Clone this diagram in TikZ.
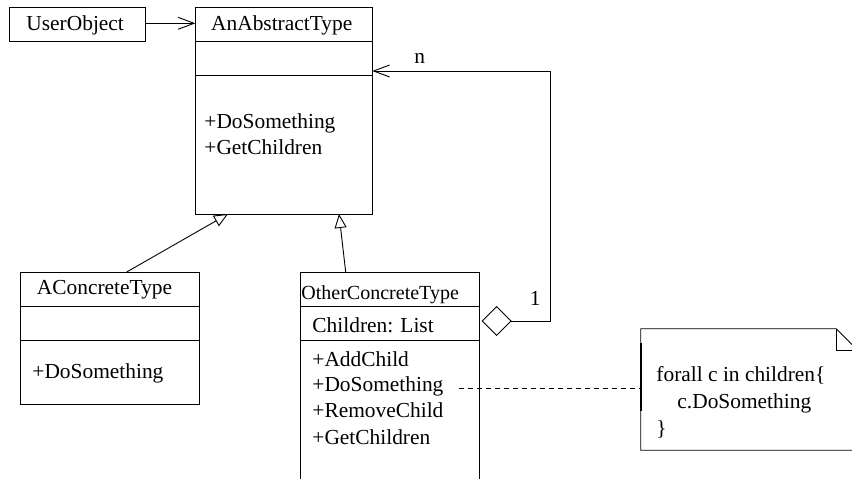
\documentclass[tikz,border=0pt]{standalone}
\usepackage{fontspec}
\setmainfont{Liberation Serif}
\usetikzlibrary{arrows.meta}
\begin{document}
\begin{tikzpicture}[x=1pt,y=-1pt,
  line width=0.9pt,
  txt/.style={anchor=base west, inner sep=0pt, font=\fontsize{21.4}{26}\selectfont},
  smalltxt/.style={anchor=base west, inner sep=0pt, font=\fontsize{20}{24}\selectfont},
  classbox/.style={draw, anchor=north west, inner sep=0pt, outer sep=0pt},
  navarrow/.style={-{Straight Barb[length=16pt,width=12pt,line width=0.9pt]}},
  genarrow/.style={-{Triangle[open,length=14pt,width=12pt,line width=0.9pt]}},
  aggline/.style={{Diamond[open,length=30pt,width=30pt,line width=0.9pt]}-{Straight Barb[length=16pt,width=12pt,line width=0.9pt]}},
  notelink/.style={dash pattern=on 5pt off 4pt}
]
\clip (0,0) rectangle (852,479);

% UserObject
\node[classbox, minimum width=136.4pt, minimum height=34pt] (user) at (9.3,7.3) {};
\node[txt] (usert) at (26,30.7) {UserObject};

% AnAbstractType
\node[classbox, minimum width=177pt, minimum height=206.7pt] (abs) at (195.3,7.3) {};
\draw (abs.west |- 0,41.7) -- (abs.east |- 0,41.7);
\draw (abs.west |- 0,75.7) -- (abs.east |- 0,75.7);
\node[txt] (abst) at (210.7,30.7) {AnAbstractType};
\node[txt] (absm1) at (204,128) {+DoSomething};
\node[txt] (absm2) at (204,154) {+GetChildren};

% AConcreteType
\node[classbox, minimum width=178.3pt, minimum height=132pt] (acon) at (20.7,272) {};
\draw (acon.west |- 0,306) -- (acon.east |- 0,306);
\draw (acon.west |- 0,340) -- (acon.east |- 0,340);
\node[txt] (acont) at (36.5,294) {AConcreteType};
\node[txt] (aconm1) at (32,378) {+DoSomething};

% OtherConcreteType
\node[classbox, minimum width=178.3pt, minimum height=230pt] (oct) at (300.7,272) {};
\draw (oct.west |- 0,306) -- (oct.east |- 0,306);
\draw (oct.west |- 0,340) -- (oct.east |- 0,340);
\node[smalltxt] (octt) at (301,299) {OtherConcreteType};
\node[txt] (octa) at (312,332.7) {Children: List};
\node[txt] (octm1) at (312,366) {+AddChild};
\node[txt] (octm2) at (312,391) {+DoSomething};
\node[txt] (octm3) at (312,417) {+RemoveChild};
\node[txt] (octm4) at (312,444) {+GetChildren};

% Note
\node[anchor=north west, inner sep=0pt, minimum width=218.6pt, minimum height=120.6pt] (note) at (640.7,328.7) {};
\draw (note.south west) -- (note.north west) -- (836.3,328.7) -- (859.3,351.7) -- (note.south east) -- cycle;
\draw (836.3,328.7) -- (836.3,350.7) -- (859.3,350.7);
\draw[line width=2pt] (640.7,343) -- (640.7,410.7);
\node[txt] (n1) at (656,381.7) {forall c in children\{};
\node[txt] (n2) at (677,408) {c.DoSomething};
\node[txt] (n3) at (656,435) {\}};

% connectors
\draw[navarrow] (user.east |- 0,23.3) -- (abs.west |- 0,23.3);
\draw[genarrow] (acon.north -| 126.7,0) -- (228,214);
\draw[genarrow] (oct.north -| 345.7,0) -- (339,214);
\coordinate (aggcorner1) at (550,321);
\coordinate (aggcorner2) at (550,71);
\draw[aggline] (481.7,321) -- (aggcorner1) -- (aggcorner2) -- (abs.east |- 0,71);
\draw[notelink] (459,388) -- (note.west |- 0,388);

% labels
\node[txt] (lbln) at (414,63) {n};
\node[txt] (lbl1) at (529.5,305.7) {1};
\end{tikzpicture}
\end{document}
